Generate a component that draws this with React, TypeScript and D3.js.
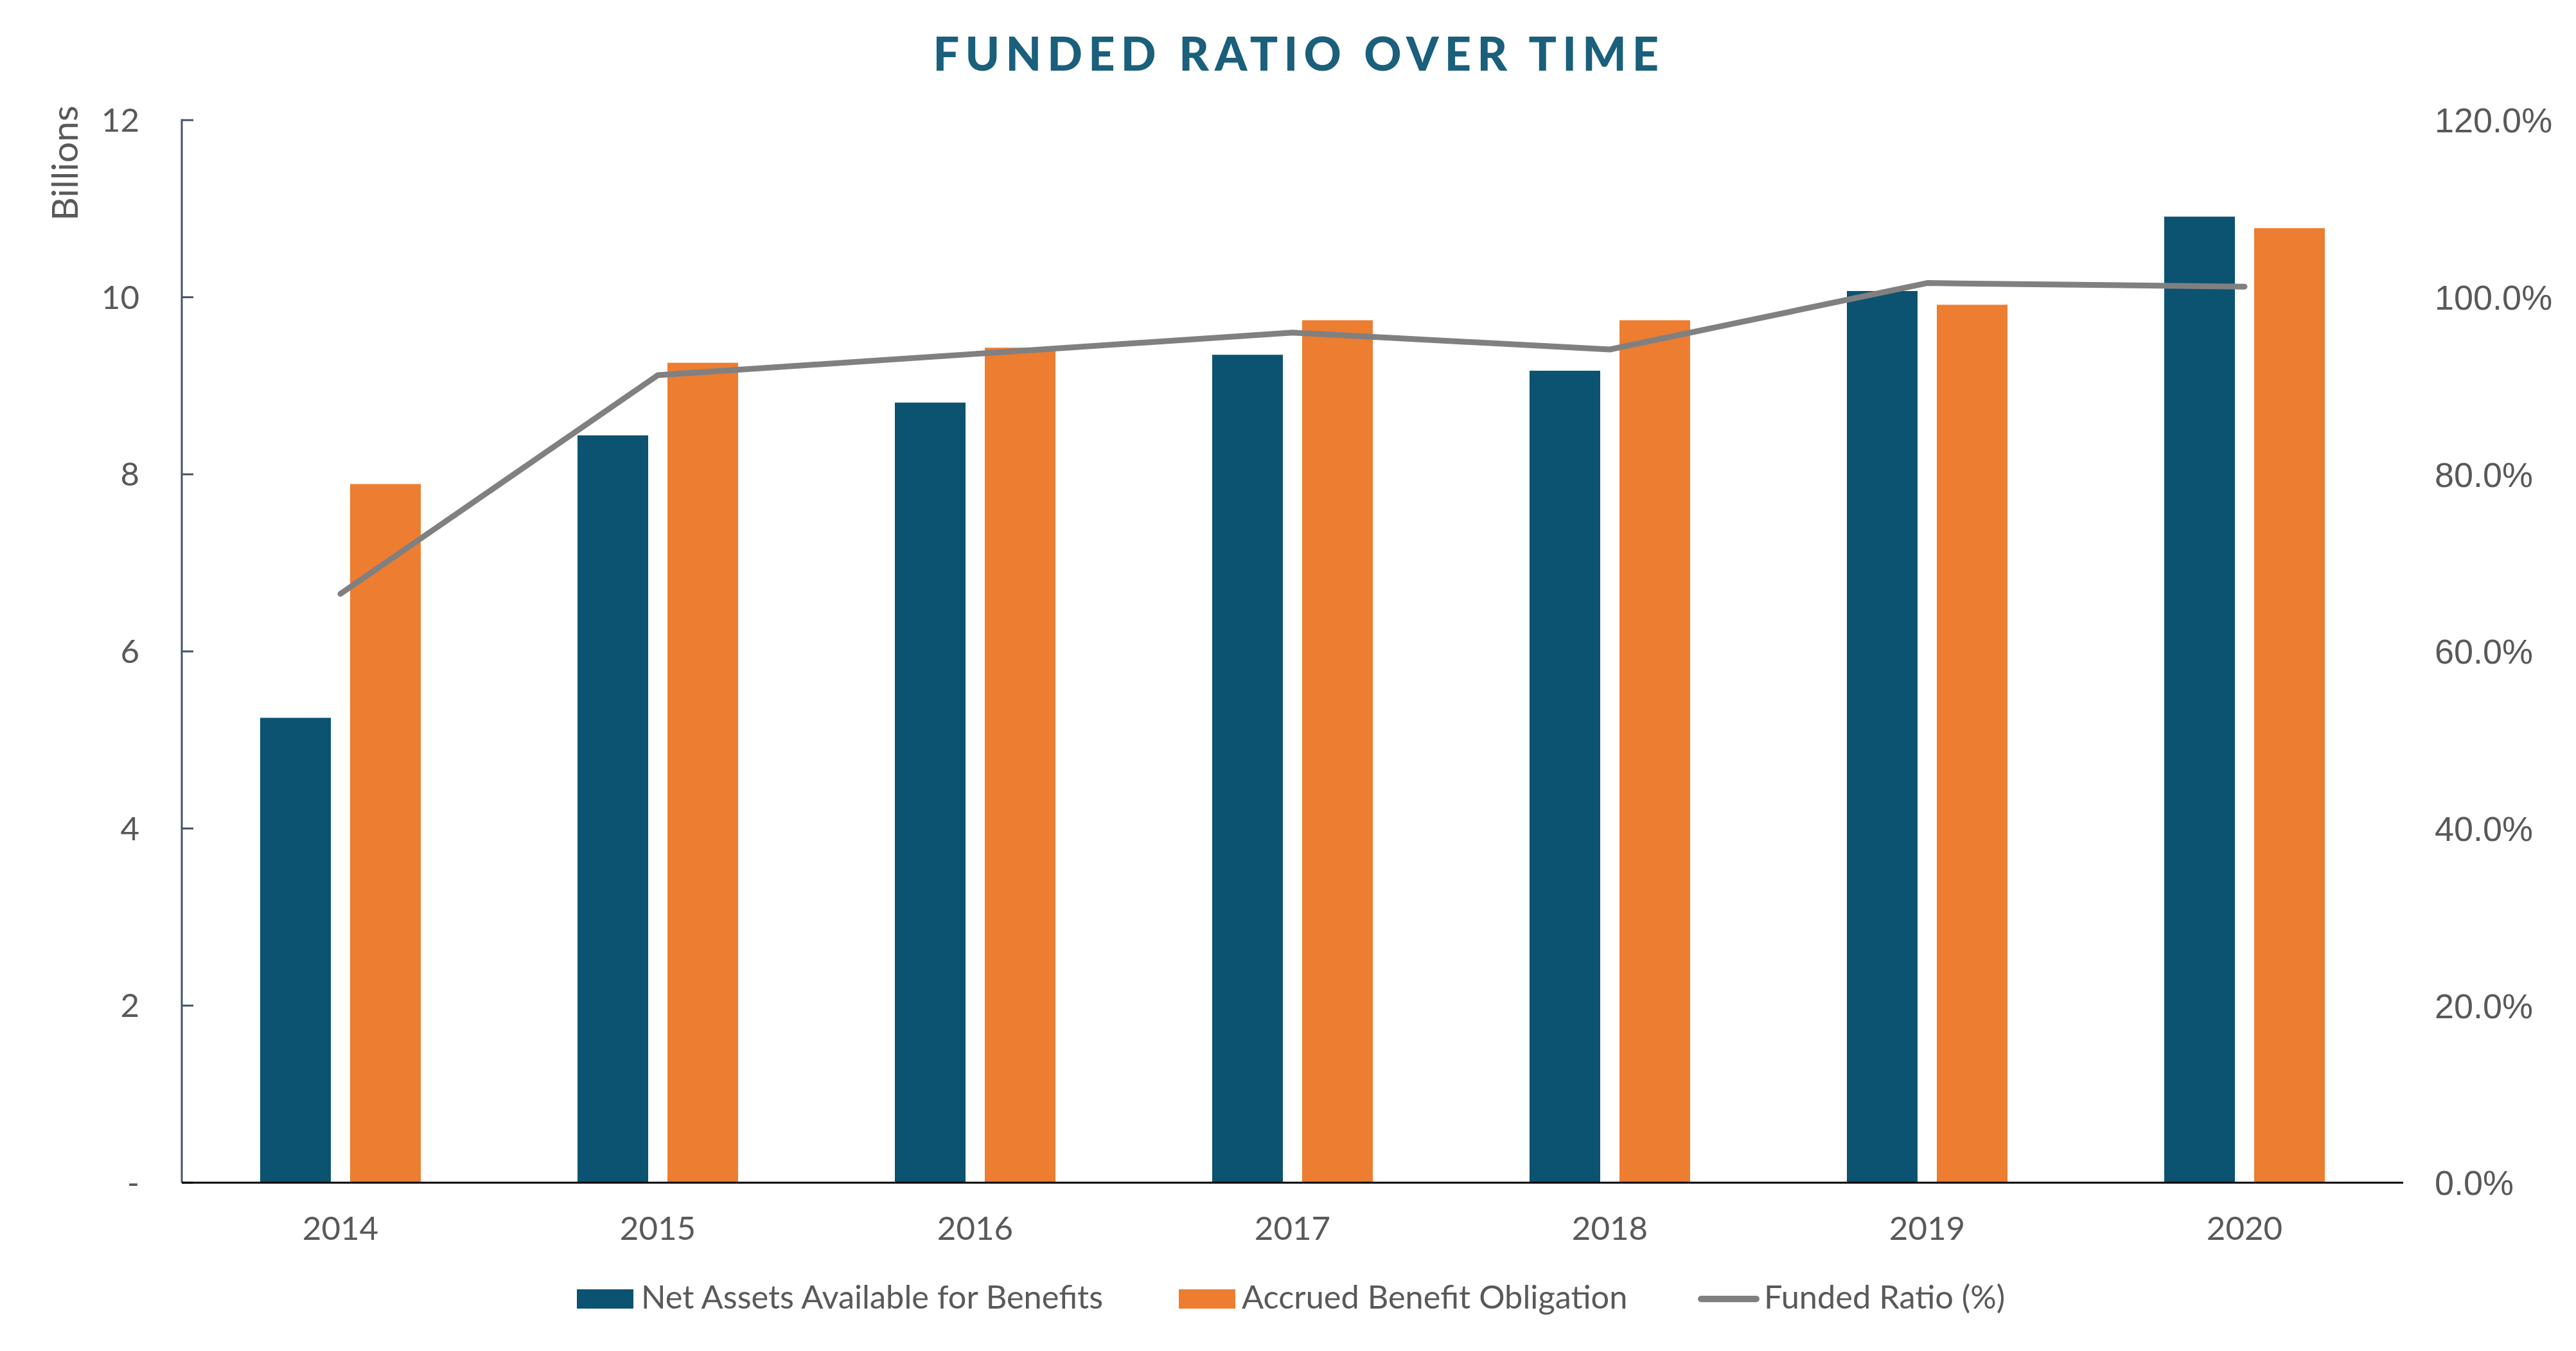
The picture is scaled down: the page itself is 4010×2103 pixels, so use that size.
import React from "react";
import * as d3 from "d3";

const years = ["2014", "2015", "2016", "2017", "2018", "2019", "2020"];
const netAssets = [5.25, 8.44, 8.81, 9.35, 9.17, 10.07, 10.91];
const accruedObligation = [7.89, 9.26, 9.43, 9.74, 9.74, 9.915, 10.78];
const fundedRatio = [66.5, 91.2, 93.6, 96.0, 94.1, 101.6, 101.2];
const leftTicks = [0, 2, 4, 6, 8, 10, 12];
const rightTicks = [0, 20, 40, 60, 80, 100, 120];
const seriesNames = ["Net Assets Available for Benefits", "Accrued Benefit Obligation", "Funded Ratio (%)"];

const W = 4010;
const H = 2103;
const BLUE = "#0c5271";
const ORANGE = "#ed7d31";
const GRAY = "#808080";
const TEXT = "#595959";
const FONT = "Lato, 'Open Sans', sans-serif";

export default function App() {
  const left = 283;
  const right = 3741;
  const top = 187;
  const bottom = 1841;

  const x0 = d3.scaleBand<string>().domain(years).range([left, right]).padding(0);
  const groupW = 250;
  const x1 = d3
    .scaleBand<string>()
    .domain(["a", "b"])
    .range([0, groupW])
    .paddingInner(0.2143)
    .paddingOuter(0);
  const groupOffset = (x0.bandwidth() - groupW) / 2;
  const y = d3.scaleLinear().domain([0, 12]).range([bottom, top]);
  const yR = d3.scaleLinear().domain([0, 120]).range([bottom, top]);

  const cx = (yr: string) => (x0(yr) as number) + x0.bandwidth() / 2;
  const line = d3
    .line<number>()
    .x((_, i) => cx(years[i]))
    .y((d) => yR(d));

  return (
    <svg
      width={W}
      height={H}
      viewBox={`0 0 ${W} ${H}`}
      style={{ position: "absolute", left: 0, top: 0, display: "block", background: "#fff" }}
    >
      <rect x={0} y={0} width={W} height={H} fill="#fff" />
      {/* Title */}
      <text
        x={2022}
        y={110}
        textAnchor="middle"
        fontFamily={FONT}
        fontWeight={900}
        fontSize={72}
        letterSpacing={9.2}
        fill="#1a5f7b"
      >
        FUNDED RATIO OVER TIME
      </text>

      {/* Y axis title */}
      <text
        transform={`translate(121,254) rotate(-90)`}
        textAnchor="middle"
        fontFamily={FONT}
        fontSize={57}
        fill={TEXT}
      >
        Billions
      </text>

      {/* Bars */}
      {years.map((yr, i) => {
        const gx = (x0(yr) as number) + groupOffset;
        return (
          <g key={yr}>
            <rect
              x={gx + (x1("a") as number)}
              y={y(netAssets[i])}
              width={x1.bandwidth()}
              height={y(0) - y(netAssets[i])}
              fill={BLUE}
            />
            <rect
              x={gx + (x1("b") as number)}
              y={y(accruedObligation[i])}
              width={x1.bandwidth()}
              height={y(0) - y(accruedObligation[i])}
              fill={ORANGE}
            />
          </g>
        );
      })}

      {/* Funded ratio line */}
      <path
        d={line(fundedRatio) as string}
        fill="none"
        stroke={GRAY}
        strokeWidth={9}
        strokeLinecap="round"
        strokeLinejoin="round"
      />

      {/* Left axis */}
      <line x1={left} x2={left} y1={top - 1.5} y2={bottom} stroke="#44546a" strokeWidth={3} />
      {leftTicks.map((t) => (
        <g key={t}>
          <line x1={left} x2={left + 18} y1={y(t)} y2={y(t)} stroke="#44546a" strokeWidth={3} />
          <text
            x={217}
            y={y(t)}
            dy="0.35em"
            textAnchor="end"
            fontFamily={FONT}
            fontSize={51}
            fill={TEXT}
          >
            {t === 0 ? "-" : String(t)}
          </text>
        </g>
      ))}

      {/* Bottom axis */}
      <line x1={left} x2={right} y1={bottom} y2={bottom} stroke="#000" strokeWidth={3} />
      {years.map((yr) => (
        <text
          key={yr}
          x={cx(yr)}
          y={1930}
          textAnchor="middle"
          fontFamily={FONT}
          fontSize={51}
          fill={TEXT}
        >
          {yr}
        </text>
      ))}

      {/* Right axis labels */}
      {rightTicks.map((t) => (
        <text
          key={t}
          x={3790}
          y={yR(t)}
          dy="0.36em"
          textAnchor="start"
          fontFamily="'Liberation Sans', Arial, sans-serif"
          fontSize={54}
          fill={TEXT}
        >
          {t.toFixed(1) + "%"}
        </text>
      ))}

      {/* Legend */}
      <rect x={898} y={2007} width={88} height={30} fill={BLUE} />
      <text x={998} y={2037} fontFamily={FONT} fontSize={50.5} fill={TEXT}>
        {seriesNames[0]}
      </text>
      <rect x={1835} y={2007} width={88} height={30} fill={ORANGE} />
      <text x={1933} y={2037} fontFamily={FONT} fontSize={50.5} fill={TEXT}>
        {seriesNames[1]}
      </text>
      <line x1={2648} x2={2734} y1={2022} y2={2022} stroke={GRAY} strokeWidth={10} strokeLinecap="round" />
      <text x={2746} y={2037} fontFamily={FONT} fontSize={50.5} fill={TEXT}>
        {seriesNames[2]}
      </text>
    </svg>
  );
}
